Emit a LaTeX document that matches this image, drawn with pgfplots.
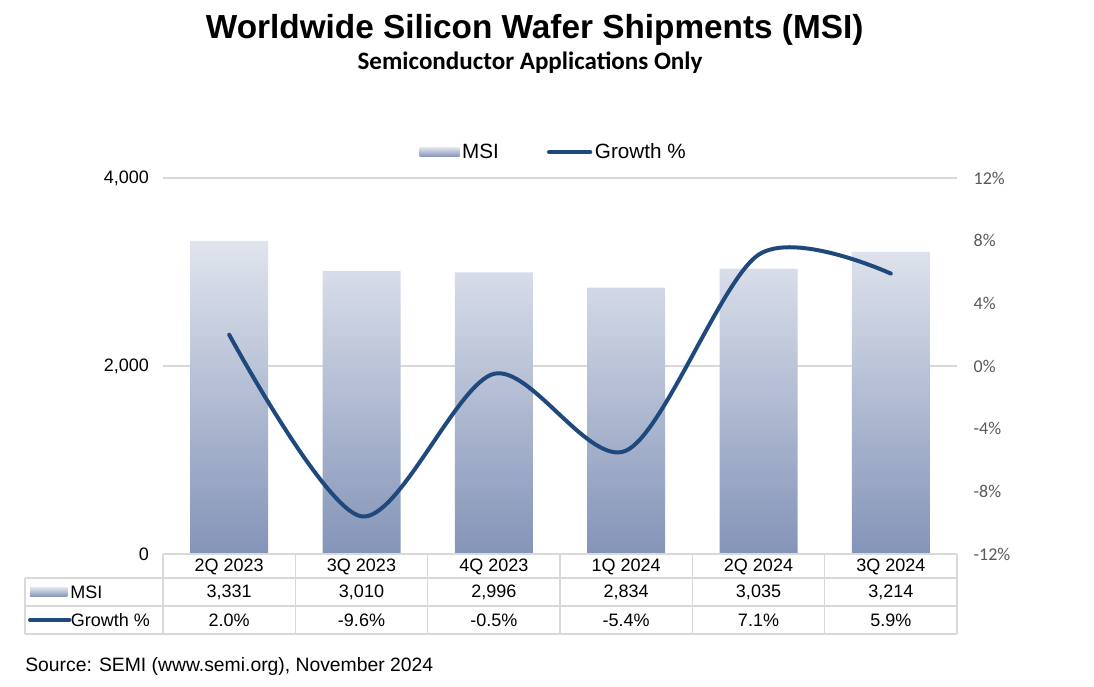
\documentclass[border=0pt]{standalone}
\usepackage{pgfplots}
\pgfplotsset{compat=1.18}
\usepackage{pgfplotstable}
\usepackage{fontspec}
\setmainfont{Liberation Sans}
\newfontfamily\carlito{Carlito}
\definecolor{bartop}{RGB}{224,228,237}
\definecolor{barbot}{RGB}{132,148,184}
\definecolor{linecol}{RGB}{31,73,125}
\definecolor{gridc}{RGB}{217,217,217}
\definecolor{tickgray}{RGB}{89,89,89}

\pgfplotstableread{
x msi
0 3331
1 3010
2 2996
3 2834
4 3035
5 3214
}\msidata
\pgfplotstableread{
x g
0 2.0
1 -9.6
2 -0.5
3 -5.4
4 7.1
5 5.9
}\growthdata

\begin{document}
\begin{tikzpicture}[x=1pt,y=1pt]
\useasboundingbox (0,0) rectangle (820.5,514.5);
% title
\node[font=\bfseries\fontsize{25}{29}\selectfont] at (401,492) {Worldwide Silicon Wafer Shipments (MSI)};
\node[font=\carlito\bfseries\fontsize{18.8}{22}\selectfont] at (397.5,467.5) {Semiconductor Applications Only};

\begin{axis}[
  at={(122.25pt,99pt)}, anchor=south west,
  width=595.5pt, height=282pt, scale only axis,
  xmin=-0.5, xmax=5.5, ymin=0, ymax=4000,
  xtick=\empty, ytick={0,2000,4000},
  ymajorgrids, grid style={gridc, line width=1pt},
  axis line style={draw=none},
  major tick length=0pt,
  /pgf/number format/assume math mode=true,
  /pgf/number format/1000 sep={,},
  yticklabel style={font=\fontsize{13.5}{16}\selectfont, text=black, xshift=-7pt},
  clip=false,
]
\addplot[ybar, bar width=58.5pt, draw=none, top color=bartop, bottom color=barbot] table[x=x,y=msi] {\msidata};
\end{axis}

\begin{axis}[
  at={(122.25pt,99pt)}, anchor=south west,
  width=595.5pt, height=282pt, scale only axis,
  xmin=-0.5, xmax=5.5, ymin=-12, ymax=12,
  axis y line*=right, axis x line=none,
  ytick={-12,-8,...,12},
  axis line style={draw=none},
  major tick length=0pt,
  /pgf/number format/assume math mode=true,
  yticklabel={\pgfmathprintnumber{\tick}\%},
  yticklabel style={font=\carlito\fontsize{13.5}{16}\selectfont, text=tickgray, anchor=west, xshift=9pt},
  legend style={at={(0.4924,1.069)}, anchor=center, draw=none, fill=none,
    font=\fontsize{15.5}{18}\selectfont, legend columns=2,
    /tikz/every even column/.append style={column sep=34pt}},
  clip=false,
]
\addlegendimage{legend image code/.code={\path[draw=none, top color=bartop,bottom color=barbot] (0pt,-3.5pt) rectangle (30pt,3.5pt);}}
\addlegendentry{MSI}
\addplot[linecol, line width=3pt, smooth, line cap=round,
  legend image code/.code={\draw[linecol, line width=3pt, line cap=round] (0pt,0pt) -- (31pt,0pt);}] table[x=x,y=g] {\growthdata};
\addlegendentry{Growth \%}
\end{axis}

% data table
\begin{scope}[gridc, line width=1.2pt]
\draw (122.25,99) -- (717.75,99);
\draw (18.75,81) -- (717.75,81);
\draw (18.75,60) -- (717.75,60);
\draw (18.75,39) -- (717.75,39);
\draw (18.75,39) -- (18.75,81);
\foreach \k in {0,...,6} { \draw (122.25+\k*99.25,39) -- (122.25+\k*99.25,99); }
\end{scope}
\begin{scope}[font=\fontsize{13.5}{15}\selectfont]
\foreach \lab [count=\i from 0] in {2Q 2023,3Q 2023,4Q 2023,1Q 2024,2Q 2024,3Q 2024} {
  \node at (122.25+\i*99.25+49.625,89.5) {\lab};
}
\foreach \lab [count=\i from 0] in {3{,}331,3{,}010,2{,}996,2{,}834,3{,}035,3{,}214} {
  \node at (122.25+\i*99.25+49.625,70.5) {\lab};
}
\foreach \lab [count=\i from 0] in {2.0\%,-9.6\%,-0.5\%,-5.4\%,7.1\%,5.9\%} {
  \node at (122.25+\i*99.25+49.625,49.5) {\lab};
}
\shade[top color=bartop,bottom color=barbot] (22.5,67) rectangle (50.5,74);
\node[anchor=west, inner sep=0pt] at (52.5,70.5) {MSI};
\draw[linecol, line width=3pt, line cap=round] (22.5,49.5) -- (52,49.5);
\node[anchor=west, inner sep=0pt] at (53,49.5) {Growth \%};
\node[anchor=west, inner sep=0pt, font=\fontsize{14.5}{17}\selectfont] at (18.75,15) {Source: SEMI (www.semi.org), November 2024};
\end{scope}
\end{tikzpicture}
\end{document}
